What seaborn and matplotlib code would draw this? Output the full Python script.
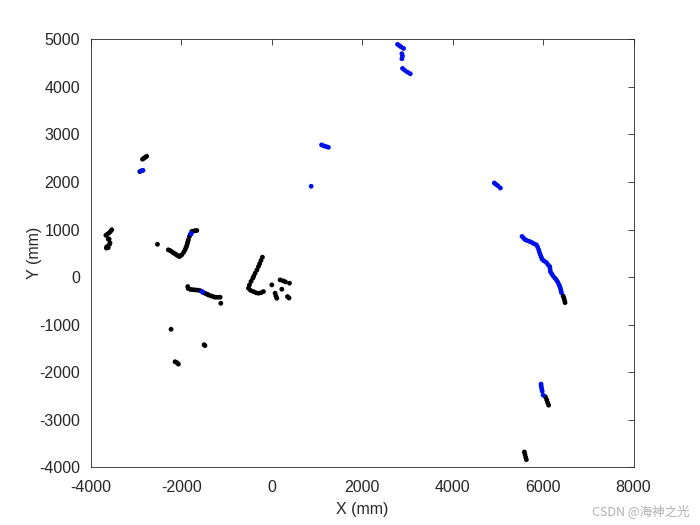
import pandas as pd
import matplotlib
matplotlib.use("Agg")
import matplotlib.pyplot as plt
import seaborn as sns

# Scan points (mm), split by colour
black_x = [-2860, -2830, -2800, -2770, -2920,
           -3540, -3570, -3600, -3640, -3670, -3620, -3600, -3580, -3590, -3650, -3620, -3660,
           -2530,
           -1660, -1700, -1740, -1771, -1800, -1824, -1846, -1860, -1870, -1883, -1900, -1920,
           -1950, -1992, -2020, -2047, -2080, -2110, -2140, -2180, -2220, -2251, -2289,
           -1860, -1850, -1800, -1750, -1698, -1640, -1587, -1514, -1470, -1430, -1403, -1350,
           -1300, -1255, -1200, -1144, -1129,
           -2229, -1498, -1480, -2140, -2100, -2067,
           -208, -240, -270, -296, -330, -369, -400, -420, -460, -495, -517, -470, -407, -350,
           -296, -240, -186,
           0, 184, 250, 300, 390, 221, 73, 90, 110, 346, 380,
           6443, 6460, 6472, 6486,
           6051, 6080, 6100, 6124, 5586, 5600, 5615, 5630]
black_y = [2480, 2500, 2520, 2540, 2220,
           995, 960, 930, 900, 880, 800, 800, 720, 690, 640, 620, 610,
           690,
           980, 975, 965, 959, 900, 854, 784, 740, 700, 658, 620, 573,
           520, 468, 450, 432, 450, 470, 489, 510, 540, 559, 573,
           -200, -240, -260, -265, -270, -275, -284, -327, -345, -360, -375, -395,
           -410, -424, -425, -424, -551,
           -1098, -1423, -1440, -1781, -1800, -1830,
           419, 350, 280, 221, 150, 82, 20, -23, -90, -164, -234, -280, -305, -330,
           -340, -330, -305,
           -164, -59, -80, -100, -129, -255, -340, -400, -445, -411, -440,
           -396, -440, -481, -537,
           -2519, -2580, -2640, -2694, -3678, -3730, -3790, -3839]

blue_x = [-2900, -2870, -2850,
          -1795, -1780,
          -1528, -1550,
          4922, 4960, 5000, 5055,
          5535, 5570, 5600, 5643, 5700, 5754, 5800, 5852, 5880, 5904, 5920, 5940, 5960, 5977,
          6020, 6073, 6110, 6147, 6155, 6162, 6190, 6222, 6260, 6295, 6320, 6347, 6365, 6383,
          6395, 6405,
          2781, 2820, 2860, 2914, 2877, 2890, 2877, 2891, 2940, 3000, 3062,
          1100, 1150, 1200, 1250, 870,
          5955, 5960, 5970, 5980, 6000]
blue_y = [2230, 2240, 2245,
          904, 920,
          -318, -300,
          1979, 1950, 1920, 1874,
          854, 820, 790, 770, 750, 727, 700, 679, 630, 573, 520, 468, 420, 377,
          340, 306, 260, 221, 170, 116, 70, 25, -20, -59, -100, -150, -190, -234,
          -280, -327,
          4895, 4870, 4840, 4810, 4699, 4650, 4593, 4389, 4350, 4310, 4277,
          2780, 2760, 2745, 2730, 1910,
          -2251, -2300, -2350, -2400, -2483]

x_ticks = [-4000, -2000, 0, 2000, 4000, 6000, 8000]
y_ticks = [-4000, -3000, -2000, -1000, 0, 1000, 2000, 3000, 4000, 5000]

df = pd.DataFrame({
    "x": black_x + blue_x,
    "y": black_y + blue_y,
    "c": ["black"] * len(black_x) + ["blue"] * len(blue_x),
})

sns.set_style("white")
plt.rcParams["font.family"] = ["Liberation Sans", "DejaVu Sans"]
plt.rcParams["axes.unicode_minus"] = False

fig = plt.figure(figsize=(7, 5.25), dpi=100)
ax = fig.add_axes([0.13, 0.11, 0.775, 0.815])

sns.scatterplot(data=df, x="x", y="y", hue="c",
                palette={"black": "black", "blue": "#0010e8"},
                s=12, linewidth=0, legend=False, ax=ax)

ax.set_xlim(-4000, 8000)
ax.set_ylim(-4000, 5000)
ax.set_xticks(x_ticks)
ax.set_yticks(y_ticks)
ax.set_xlabel("X (mm)", fontsize=11.5, color="#262626", labelpad=5)
ax.set_ylabel("Y (mm)", fontsize=11.5, color="#262626", labelpad=-2)
ax.tick_params(direction="in", length=4, width=0.6, colors="#262626",
               labelsize=11.5, top=True, right=True, labeltop=False, labelright=False)
ax.tick_params(axis="x", pad=9)
ax.tick_params(axis="y", pad=8)
for sp in ax.spines.values():
    sp.set_visible(True)
    sp.set_color("#262626")
    sp.set_linewidth(0.6)

fig.text(0.985, 0.013, "CSDN @海神之光", ha="right", va="bottom", fontsize=9,
         color="#b0b0b0", family=["Noto Sans CJK SC", "DejaVu Sans"])

fig.savefig("out.png", dpi=100, facecolor="white")
